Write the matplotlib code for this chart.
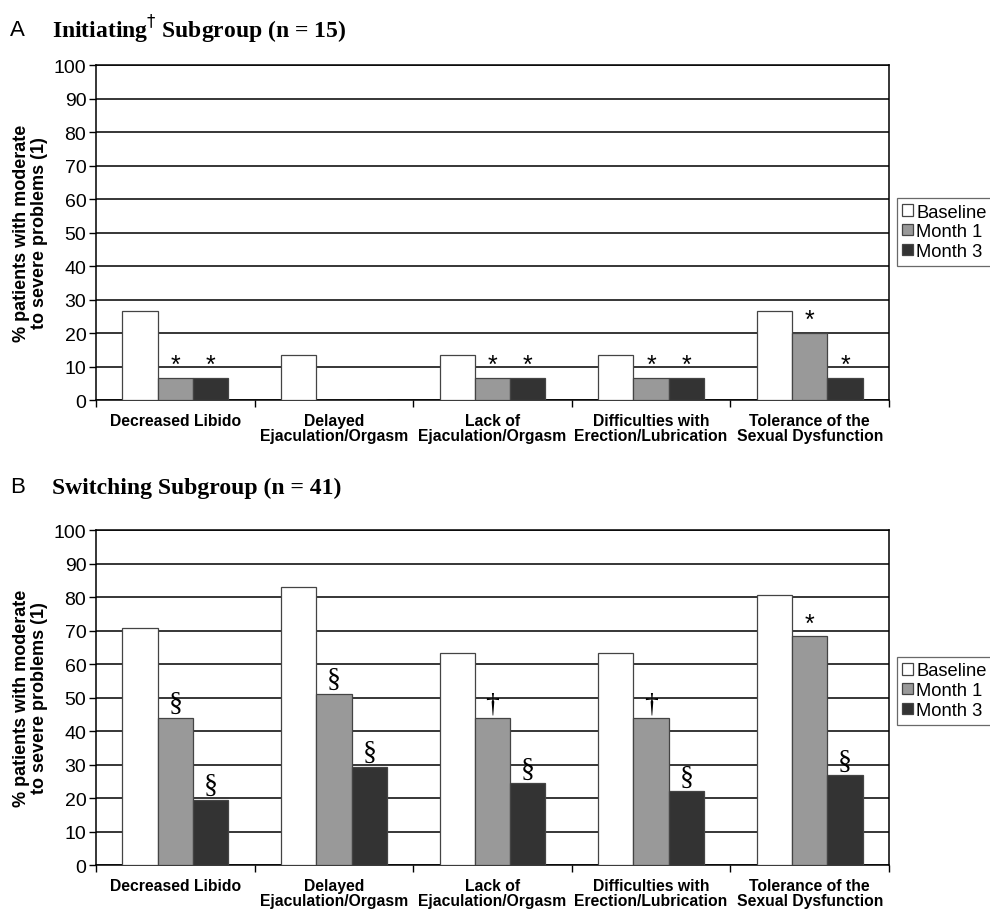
import matplotlib.pyplot as plt
import numpy as np

categories = ['Decreased Libido', 'Delayed\nEjaculation/Orgasm', 'Lack of\nEjaculation/Orgasm',
              'Difficulties with\nErection/Lubrication', 'Tolerance of the\nSexual Dysfunction']
series = ['Baseline', 'Month 1', 'Month 3']
colors = ['white', '#999999', '#333333']

# Panel A - initiating subgroup
a_baseline = [26.7, 13.3, 13.3, 13.3, 26.7]
a_month1 = [6.7, 0, 6.7, 6.7, 20.0]
a_month3 = [6.7, 0, 6.7, 6.7, 6.7]
a_marks1 = ['*', '', '*', '*', '*']
a_marks3 = ['*', '', '*', '*', '*']

# Panel B - switching subgroup
b_baseline = [70.7, 82.9, 63.4, 63.4, 80.5]
b_month1 = [43.9, 51.2, 43.9, 43.9, 68.3]
b_month3 = [19.5, 29.3, 24.4, 22.0, 26.8]
b_marks1 = ['§', '§', '†', '†', '*']
b_marks3 = ['§', '§', '§', '§', '§']

plt.rcParams['font.family'] = ['Liberation Sans', 'DejaVu Sans']

fig = plt.figure(figsize=(9.9, 9.12), dpi=100)


def panel(ax, vals, marks, legend_y):
    x = np.arange(len(categories))
    w = 0.2225
    bars = []
    for i, (v, c) in enumerate(zip(vals, colors)):
        b = ax.bar(x + (i - 1) * w, v, w, color=c, edgecolor='#444444', linewidth=0.9,
                   label=series[i], zorder=3)
        bars.append(b)
    for i, mk in ((1, marks[0]), (2, marks[1])):
        for j, m in enumerate(mk):
            if not m:
                continue
            xx = x[j] + (i - 1) * w
            yy = vals[i][j]
            if m == '*':
                ax.text(xx, yy + 0.2, m, ha='center', va='bottom', fontsize=18, zorder=4)
            else:
                ax.text(xx, yy + 0.5, m, ha='center', va='bottom', fontsize=20,
                        family='Liberation Serif', zorder=4)
    ax.set_xlim(-0.5, len(categories) - 0.5)
    ax.set_ylim(0, 100)
    ax.set_yticks(range(0, 101, 10))
    ax.yaxis.grid(True, color='black', linewidth=1.1, zorder=0)
    ax.set_axisbelow(True)
    ax.set_xticks(np.arange(len(categories) + 1) - 0.5)
    ax.set_xticklabels([])
    ax.set_xticks(x, minor=True)
    ax.set_xticklabels(categories, minor=True, fontsize=11.3, fontweight='bold', linespacing=1.05)
    ax.tick_params(axis='x', which='minor', length=0, pad=9)
    ax.tick_params(axis='x', which='major', length=5, direction='out', width=1)
    ax.tick_params(axis='y', length=5, width=1, labelsize=14, pad=2)
    for s in ax.spines.values():
        s.set_linewidth(1.1)
    ax.set_ylabel('% patients with moderate\nto severe problems (1)', fontsize=13,
                  fontweight='bold', linespacing=1.1, labelpad=4)
    leg = fig.legend(handles=bars, labels=series, loc='upper left',
                     bbox_to_anchor=(0.906, legend_y), fontsize=13.2, frameon=True,
                     fancybox=False, edgecolor='#444444', handlelength=0.55, handleheight=0.55,
                     handletextpad=0.2, borderpad=0.3, labelspacing=0.15, borderaxespad=0)
    leg.get_frame().set_linewidth(0.9)


axA = fig.add_axes([0.097, 0.5603, 0.801, 0.3673])
panel(axA, [a_baseline, a_month1, a_month3], [a_marks1, a_marks3], 1 - 199 / 912)
axB = fig.add_axes([0.097, 0.0504, 0.801, 0.3673])
panel(axB, [b_baseline, b_month1, b_month3], [b_marks1, b_marks3], 1 - 658 / 912)

fig.text(10 / 990, 1 - 30 / 912, 'A', fontsize=16, va='center')
fig.text(52 / 990, 1 - 30 / 912, r'Initiating$^{\dagger}$ Subgroup (n = 15)', fontsize=17,
         fontweight='bold', family='Liberation Serif', va='center')
fig.text(10 / 990, 1 - 488 / 912, 'B', fontsize=16, va='center')
fig.text(52 / 990, 1 - 488 / 912, 'Switching Subgroup (n = 41)', fontsize=17,
         fontweight='bold', family='Liberation Serif', va='center')

fig.savefig('out.png', dpi=100)
